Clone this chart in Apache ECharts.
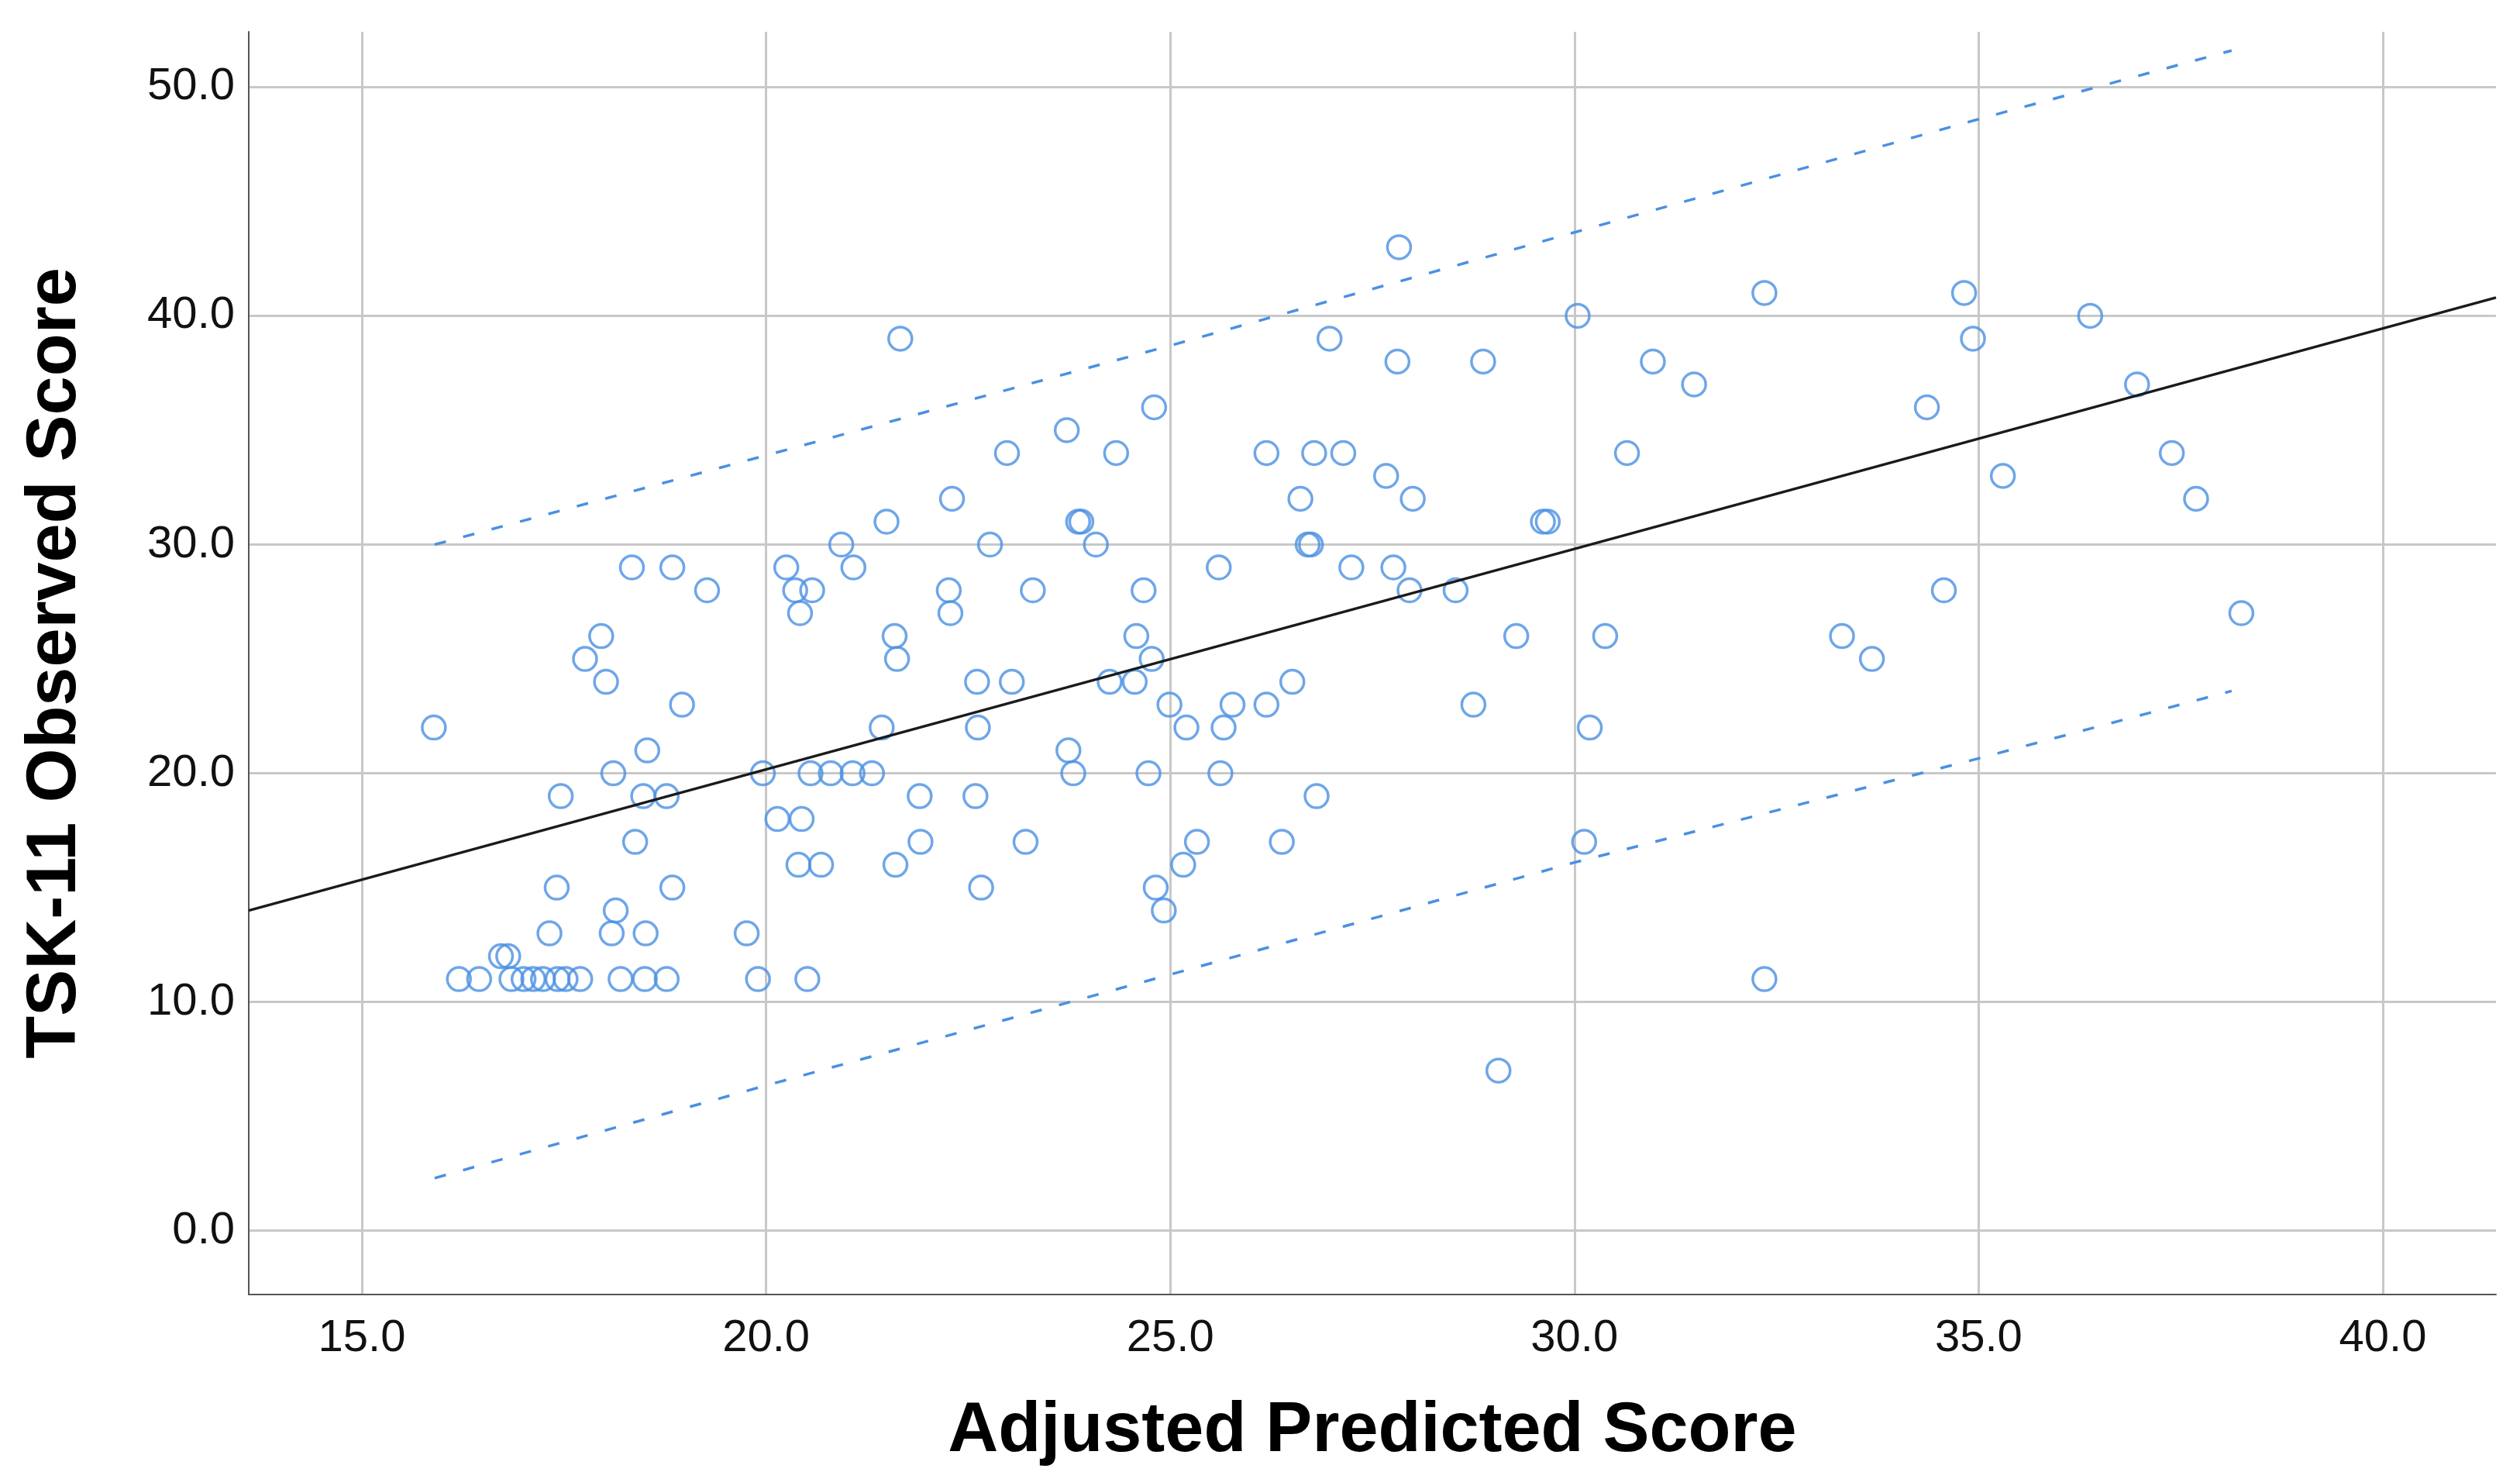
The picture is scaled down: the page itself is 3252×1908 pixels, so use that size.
<!DOCTYPE html>
<html>
<head>
<meta charset="utf-8">
<script src="https://cdn.jsdelivr.net/npm/echarts@6/dist/echarts.min.js"></script>
<style>
html,body{margin:0;padding:0;background:#fff;}
#chart{width:3252px;height:1908px;}
</style>
</head>
<body>
<div id="chart"></div>
<script>
// Adjusted predicted score (x) and observed TSK-11 score (y)
const predicted = [
  29.06,
  16.20,16.45,16.85,17.00,17.12,17.24,17.42,17.52,17.70,18.20,18.50,18.77,19.90,20.51,32.35,
  16.72,16.81,
  17.32,18.09,18.51,19.76,
  18.14,24.92,
  17.41,18.84,22.66,24.82,
  20.40,20.68,21.60,25.16,
  18.38,21.91,23.21,25.33,26.38,30.12,
  20.14,20.44,
  17.46,18.48,18.77,21.90,22.59,26.81,
  18.11,19.96,20.55,20.80,21.07,21.31,23.80,24.73,25.62,
  18.53,23.74,
  15.89,21.43,22.62,25.20,25.66,30.19,
  18.96,24.99,25.77,26.19,28.75,
  18.02,22.61,23.04,24.25,24.56,26.51,
  17.76,21.62,24.77,33.68,
  17.96,21.59,24.58,29.28,30.38,33.31,
  20.42,22.28,38.25,
  19.27,20.36,20.57,22.26,23.30,24.67,27.96,28.53,34.57,
  18.34,18.84,20.25,21.08,25.60,27.24,27.76,
  20.93,22.77,24.08,26.70,26.74,
  21.49,23.86,23.90,29.61,29.67,
  22.30,26.61,28.00,37.69,
  27.67,35.30,
  22.98,24.33,26.19,26.78,27.14,30.65,37.39,
  23.72,
  24.80,34.36,
  31.48,36.96,
  27.81,28.87,30.97,
  21.66,26.97,34.93,
  30.04,36.38,
  32.35,34.82,
  27.83
];
const observed = [
  7,
  11,11,11,11,11,11,11,11,11,11,11,11,11,11,11,
  12,12,
  13,13,13,13,
  14,14,
  15,15,15,15,
  16,16,16,16,
  17,17,17,17,17,17,
  18,18,
  19,19,19,19,19,19,
  20,20,20,20,20,20,20,20,20,
  21,21,
  22,22,22,22,22,22,
  23,23,23,23,23,
  24,24,24,24,24,24,
  25,25,25,25,
  26,26,26,26,26,26,
  27,27,27,
  28,28,28,28,28,28,28,28,28,
  29,29,29,29,29,29,29,
  30,30,30,30,30,
  31,31,31,31,31,
  32,32,32,32,
  33,33,
  34,34,34,34,34,34,34,
  35,
  36,36,
  37,37,
  38,38,38,
  39,39,39,
  40,40,
  41,41,
  43
];
// Fit line endpoints (at the axis limits) and prediction-interval lines
const fitX = [13.6, 41.4];
const fitY = [14.0, 40.8];
const bandX = [15.9, 20, 25, 30, 35, 38.13];
const upperY = [30.0, 33.9, 38.7, 43.65, 48.6, 51.6];
const lowerY = [2.3, 6.35, 11.2, 16.1, 20.65, 23.6];
// Axis ticks
const xTicks = [15, 20, 25, 30, 35, 40];
const yTicks = [0, 10, 20, 30, 40, 50];
const xRange = [13.6, 41.4];
const yRange = [-2.79, 52.42];

const pts = predicted.map((x, i) => [x, observed[i]]);
const zip = (a, b) => a.map((v, i) => [v, b[i]]);

const blue = '#4a90e2';
const font = 'Liberation Sans, Arial, sans-serif';
const chart = echarts.init(document.getElementById('chart'), null, {renderer: 'canvas'});

function axisCommon(ticks) {
  return {
    type: 'value',
    axisLine: {show: true, onZero: false, lineStyle: {color: '#555', width: 2}},
    axisTick: {show: false, customValues: ticks},
    splitLine: {show: true, lineStyle: {color: '#c8c8c8', width: 3}},
    axisLabel: {
      customValues: ticks,
      fontSize: 58, color: '#111', fontFamily: font,
      formatter: v => Number(v).toFixed(1)
    },
    nameLocation: 'middle',
    nameTextStyle: {fontSize: 90, fontWeight: 'bold', color: '#000', fontFamily: font}
  };
}

const xAxis = axisCommon(xTicks);
Object.assign(xAxis, {min: xRange[0], max: xRange[1], name: 'Adjusted Predicted Score', nameGap: 132});
xAxis.axisLabel.margin = 28;
const yAxis = axisCommon(yTicks);
Object.assign(yAxis, {min: yRange[0], max: yRange[1], name: 'TSK-11 Observed Score', nameGap: 204});
yAxis.axisLabel.margin = 18;

chart.setOption({
  backgroundColor: '#fff',
  animation: false,
  grid: {left: 321, right: 31, top: 41, bottom: 238, containLabel: false},
  xAxis: xAxis,
  yAxis: yAxis,
  series: [
    {
      type: 'scatter', data: pts, symbol: 'circle', symbolSize: 30,
      itemStyle: {color: 'rgba(0,0,0,0)', borderColor: blue, borderWidth: 3.5}, z: 2
    },
    {
      type: 'line', data: zip(fitX, fitY), symbol: 'none',
      lineStyle: {color: '#1a1a1a', width: 3.5}, z: 3
    },
    {
      type: 'line', data: zip(bandX, upperY), symbol: 'none',
      lineStyle: {color: blue, width: 3.5, type: [15, 23]}, z: 3
    },
    {
      type: 'line', data: zip(bandX, lowerY), symbol: 'none',
      lineStyle: {color: blue, width: 3.5, type: [15, 23]}, z: 3
    }
  ]
});
</script>
</body>
</html>
